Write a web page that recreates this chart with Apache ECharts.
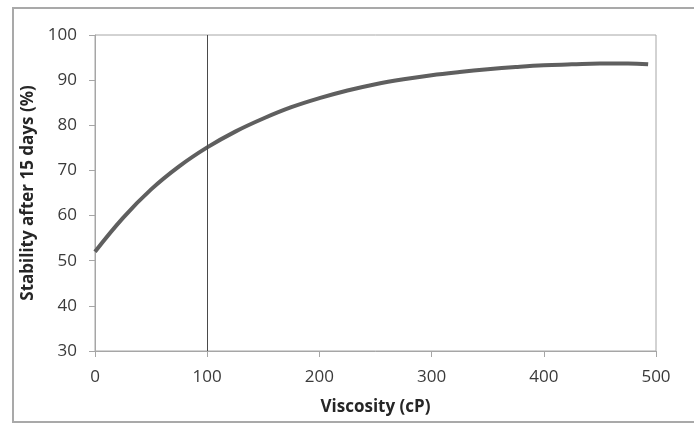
<!DOCTYPE html>
<html>
<head>
<meta charset="utf-8">
<script src="https://cdn.jsdelivr.net/npm/echarts@6/dist/echarts.min.js"></script>
<style>
html,body{margin:0;padding:0;background:#fff;}
#c{width:694px;height:424px;}
</style>
</head>
<body>
<div id="c"></div>
<script>
const viscosity = [0, 25, 50, 75, 100, 125, 150, 175, 200, 225, 250, 275, 300, 325, 350, 375, 400, 425, 450, 475, 493];
const stability = [52.0, 59.5, 65.8, 70.9, 75.1, 78.6, 81.5, 84.0, 86.0, 87.7, 89.1, 90.2, 91.1, 91.8, 92.4, 92.9, 93.3, 93.5, 93.7, 93.7, 93.5];
const markerViscosity = 100;
const xTicks = [0, 100, 200, 300, 400, 500];
const yTicks = [30, 40, 50, 60, 70, 80, 90, 100];
const xTitle = 'Viscosity (cP)';
const yTitle = 'Stability after 15 days (%)';

const FONT = '"Open Sans", "Noto Sans", sans-serif';
const chart = echarts.init(document.getElementById('c'), null, {renderer: 'canvas'});
chart.setOption({
  animation: false,
  backgroundColor: '#fff',
  graphic: [{
    type: 'rect', silent: true, z: -10,
    shape: {x: 13, y: 8, width: 700, height: 414},
    style: {fill: 'none', stroke: '#a9a9a9', lineWidth: 2}
  }],
  grid: {left: 95, top: 35, right: 38, bottom: 73, show: true, borderColor: '#a6a6a6', borderWidth: 1, backgroundColor: 'transparent'},
  xAxis: {
    type: 'value', min: xTicks[0], max: xTicks[xTicks.length-1], interval: 100,
    name: xTitle, nameLocation: 'middle', nameGap: 48,
    nameTextStyle: {fontFamily: FONT, fontSize: 17, fontWeight: 'bold', color: '#262626'},
    axisLine: {show: true, lineStyle: {color: '#a6a6a6', width: 1}},
    axisTick: {show: true, inside: false, length: 6, lineStyle: {color: '#a6a6a6'}},
    axisLabel: {fontFamily: FONT, fontSize: 17, color: '#3a3a3a', margin: 18},
    splitLine: {show: false}
  },
  yAxis: {
    type: 'value', min: yTicks[0], max: yTicks[yTicks.length-1], interval: 10,
    name: yTitle, nameLocation: 'middle', nameGap: 53,
    nameTextStyle: {fontFamily: FONT, fontSize: 17, fontWeight: 'bold', color: '#262626'},
    axisLine: {show: true, lineStyle: {color: '#a6a6a6', width: 1}},
    axisTick: {show: true, inside: false, length: 6, lineStyle: {color: '#a6a6a6'}},
    axisLabel: {fontFamily: FONT, fontSize: 17, color: '#3a3a3a', margin: 18},
    splitLine: {show: false}
  },
  series: [{
    type: 'line',
    data: viscosity.map((v, i) => [v, stability[i]]),
    smooth: 0.4,
    showSymbol: false,
    lineStyle: {color: '#5f5f5f', width: 4},
    markLine: {
      silent: true, symbol: ['none', 'none'], label: {show: false},
      lineStyle: {color: '#4a4a4a', width: 1, type: 'solid'},
      data: [{xAxis: markerViscosity}]
    }
  }]
});
</script>
</body>
</html>
